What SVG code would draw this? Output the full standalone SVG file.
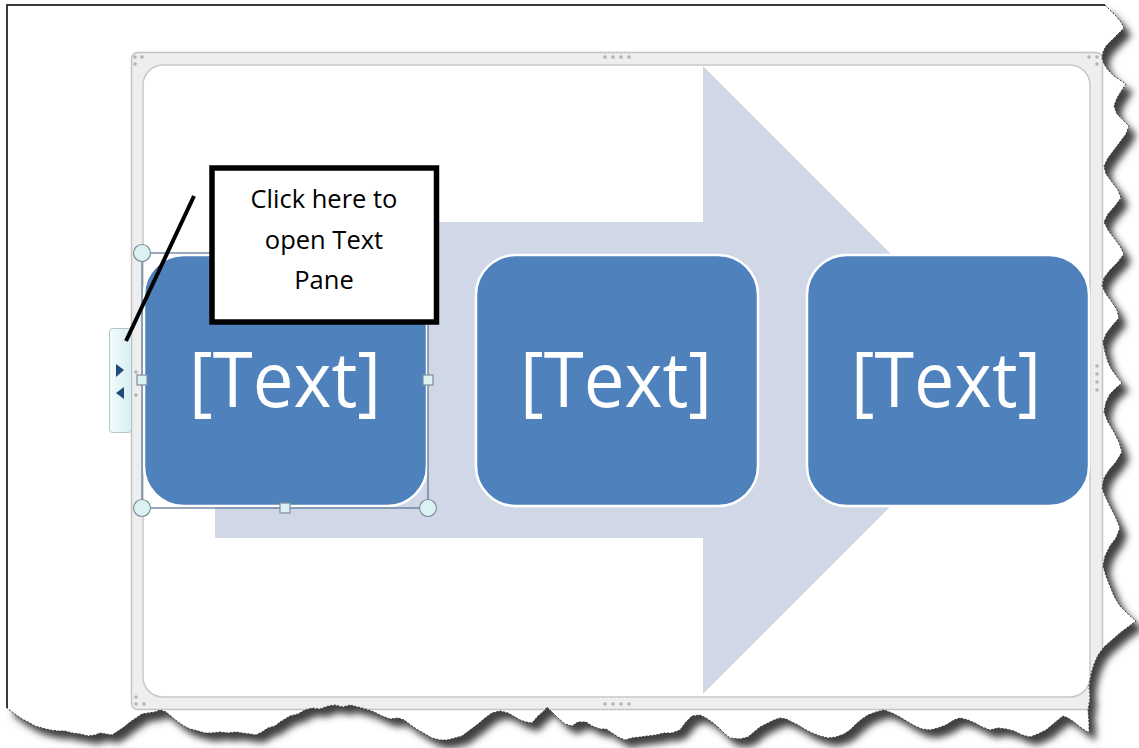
<svg xmlns="http://www.w3.org/2000/svg" width="1139" height="748" viewBox="0 0 1139 748">
<style>
.box{fill:#4f81bd;stroke:#ffffff;stroke-width:2.5}
.btxt{font-family:"Open Sans","Liberation Sans",sans-serif;font-size:77px;fill:#ffffff;text-anchor:middle}
.ctxt{font-family:"Open Sans","Liberation Sans",sans-serif;font-size:25.5px;fill:#000000;text-anchor:middle}
.hc{fill:#dcf2f2;stroke:#808c98;stroke-width:1.2}
.dot{fill:#b4b4b4}
</style>
<defs>
<path id="pg" d="M7,5 L1105,5 L1110,10 L1116,16 L1121,22 L1124,28 L1118,34 L1112,40 L1106,46 L1103,52 L1102,58 L1104,64 L1108,70 L1114,76 L1120,80 L1126,84 L1122,90 L1117,98 L1114,106 L1117,114 L1123,120 L1129,126 L1126,134 L1120,142 L1114,150 L1108,158 L1104,166 L1106,174 L1112,182 L1118,190 L1121,198 L1115,206 L1108,214 L1104,222 L1108,230 L1114,238 L1120,246 L1124,254 L1118,262 L1110,270 L1104,278 L1102,286 L1106,294 L1112,302 L1117,310 L1119,318 L1112,326 L1106,334 L1103,342 L1105,352 L1108,362 L1112,370 L1118,378 L1122,383 L1116,388 L1110,394 L1106,402 L1104,412 L1108,422 L1114,432 L1119,442 L1122,452 L1116,462 L1109,470 L1104,478 L1102,488 L1106,498 L1111,508 L1116,518 L1120,528 L1116,538 L1110,546 L1105,556 L1103,566 L1106,576 L1110,586 L1114,596 L1120,606 L1128,614 L1136,621 L1128,627 L1120,633 L1112,640 L1104,647 L1098,655 L1094,664 L1091,674 L1089,686 L1090,698 L1088,710 L1089,722 L1089,733 L1086,731 L1080,727 L1074,722 L1068,718 L1063,716 L1058,720 L1052,725 L1046,730 L1038,734 L1030,737 L1022,735 L1014,731 L1006,729 L998,728 L990,730 L982,727 L975,723 L968,720 L960,718 L954,720 L946,725 L938,728 L930,730 L922,729 L915,726 L908,722 L900,717 L892,713 L884,710 L876,712 L868,715 L862,719 L856,724 L850,730 L844,734 L836,737 L828,738 L820,736 L812,733 L806,730 L798,725 L792,722 L786,719 L780,718 L774,720 L766,724 L760,727 L754,732 L748,737 L740,739 L730,738 L724,733 L718,727 L712,722 L706,718 L700,715 L692,716 L686,722 L680,730 L672,733 L664,733 L656,735 L648,736 L640,737 L632,738 L625,740 L618,737 L612,733 L606,729 L600,729 L592,726 L586,722 L578,722 L572,726 L565,724 L558,718 L552,712 L547,707 L544,711 L538,716 L532,723 L526,722 L520,720 L515,717 L508,713 L500,711 L492,713 L485,718 L478,724 L470,730 L462,736 L455,738 L447,740 L440,740 L432,738 L425,734 L418,730 L412,726 L404,720 L398,718 L390,719 L382,716 L374,712 L366,709 L358,707 L350,705 L343,707 L335,705 L328,706 L320,709 L312,708 L305,710 L298,714 L290,716 L280,722 L275,726 L268,728 L262,732 L256,735 L250,734 L242,733 L236,732 L228,733 L220,732 L212,733 L205,733 L198,731 L190,729 L184,726 L178,722 L172,717 L166,712 L160,710 L155,712 L148,713 L142,714 L136,718 L130,722 L124,727 L118,731 L112,735 L106,734 L100,733 L95,735 L88,736 L80,734 L72,733 L65,731 L58,731 L50,730 L42,728 L35,726 L28,722 L22,719 L15,714 L7,708 Z"/>
<clipPath id="pgclip"><use href="#pg"/></clipPath>
<clipPath id="edgeclip"><polygon points="9,9 1103,9 1103,0 1139,0 1139,748 0,748 0,708 9,708"/></clipPath>
<filter id="sh" x="-5%" y="-5%" width="110%" height="110%"><feGaussianBlur stdDeviation="3.5"/></filter>
<linearGradient id="tabg" x1="0" y1="0" x2="1" y2="0"><stop offset="0" stop-color="#f2fbfc"/><stop offset="1" stop-color="#d6eef2"/></linearGradient>
</defs>

<rect x="0" y="0" width="1139" height="748" fill="#ffffff"/>

<g id="page">
<use href="#pg" transform="translate(7,8)" fill="#404040" filter="url(#sh)"/>
<use href="#pg" fill="#ffffff"/>
</g>

<g clip-path="url(#pgclip)">
<g id="frame">
<rect x="131.5" y="52.5" width="971" height="657" rx="6" fill="#eeeeee" stroke="#c4c4c4" stroke-width="1.5"/>
<rect x="143" y="65" width="947" height="632" rx="20" fill="#ffffff" stroke="#c8c8c8" stroke-width="1.5"/>
<circle class="dot" cx="135" cy="57" r="1.8"/><circle class="dot" cx="142" cy="57" r="1.8"/><circle class="dot" cx="135" cy="64" r="1.8"/>
<circle class="dot" cx="1089" cy="57" r="1.8"/><circle class="dot" cx="1097" cy="57" r="1.8"/><circle class="dot" cx="1097" cy="64" r="1.8"/>
<circle class="dot" cx="136" cy="697" r="1.8"/><circle class="dot" cx="136" cy="704" r="1.8"/><circle class="dot" cx="144" cy="704" r="1.8"/>
<circle class="dot" cx="605" cy="57" r="1.8"/><circle class="dot" cx="613" cy="57" r="1.8"/><circle class="dot" cx="621" cy="57" r="1.8"/><circle class="dot" cx="629" cy="57" r="1.8"/>
<circle class="dot" cx="605" cy="704" r="1.8"/><circle class="dot" cx="613" cy="704" r="1.8"/><circle class="dot" cx="621" cy="704" r="1.8"/><circle class="dot" cx="629" cy="704" r="1.8"/>
<circle class="dot" cx="1097" cy="366" r="1.8"/><circle class="dot" cx="1097" cy="374" r="1.8"/><circle class="dot" cx="1097" cy="382" r="1.8"/><circle class="dot" cx="1097" cy="390" r="1.8"/>
<circle class="dot" cx="136" cy="372" r="1.8"/><circle class="dot" cx="136" cy="395" r="1.8"/>
</g>

<g id="arrow">
<polygon points="215,222 703,222 703,66 1017,380 703,694 703,538 215,538" fill="#d0d8e7"/>
</g>

<g id="node-box1">
<rect class="box" x="144" y="255" width="283" height="251" rx="40"/>
<text class="btxt" x="285" y="407" textLength="192" lengthAdjust="spacingAndGlyphs">[Text]</text>
</g>
<g id="node-box2">
<rect class="box" x="476" y="255" width="282" height="251" rx="40"/>
<text class="btxt" x="616" y="407" textLength="192" lengthAdjust="spacingAndGlyphs">[Text]</text>
</g>
<g id="node-box3">
<rect class="box" x="807" y="255" width="282" height="251" rx="40"/>
<text class="btxt" x="946" y="407" textLength="190" lengthAdjust="spacingAndGlyphs">[Text]</text>
</g>

<g id="selection">
<rect x="142" y="253" width="286" height="255" fill="none" stroke="#55718f" stroke-width="1.2"/>
<circle class="hc" cx="142" cy="253" r="8.5"/>
<circle class="hc" cx="428" cy="253" r="8.5"/>
<circle class="hc" cx="142" cy="508" r="8.5"/>
<circle class="hc" cx="428" cy="508" r="8.5"/>
<rect class="hc" x="137" y="375" width="10" height="10"/>
<rect class="hc" x="423" y="375" width="10" height="10"/>
<rect class="hc" x="280" y="503" width="10" height="10"/>
<rect class="hc" x="280" y="248" width="10" height="10"/>
</g>
</g>

<g id="tab">
<rect x="109.5" y="328.5" width="22" height="104" rx="3" fill="url(#tabg)" stroke="#b5c4c8" stroke-width="1"/>
<polygon points="116,364 124,370 116,377" fill="#1f4a78"/>
<polygon points="124,387 116,393 124,399" fill="#1f4a78"/>
</g>

<g id="callout">
<rect x="212" y="168" width="224.5" height="154" fill="#ffffff" stroke="#000000" stroke-width="5.5"/>
<text class="ctxt" x="324" y="208">Click here to</text>
<text class="ctxt" x="324" y="248.5">open Text</text>
<text class="ctxt" x="324" y="289">Pane</text>
</g>

<g id="connectors">
<line x1="194" y1="196" x2="126" y2="341" stroke="#000000" stroke-width="4"/>
</g>

<g id="page-edges">
<path d="M7,708 L7,5 L1105,5" fill="none" stroke="#3a3a3a" stroke-width="2"/>
<use href="#pg" fill="none" stroke="#3a3a3a" stroke-width="1" stroke-dasharray="2 1.6" clip-path="url(#edgeclip)"/>
</g>
</svg>
